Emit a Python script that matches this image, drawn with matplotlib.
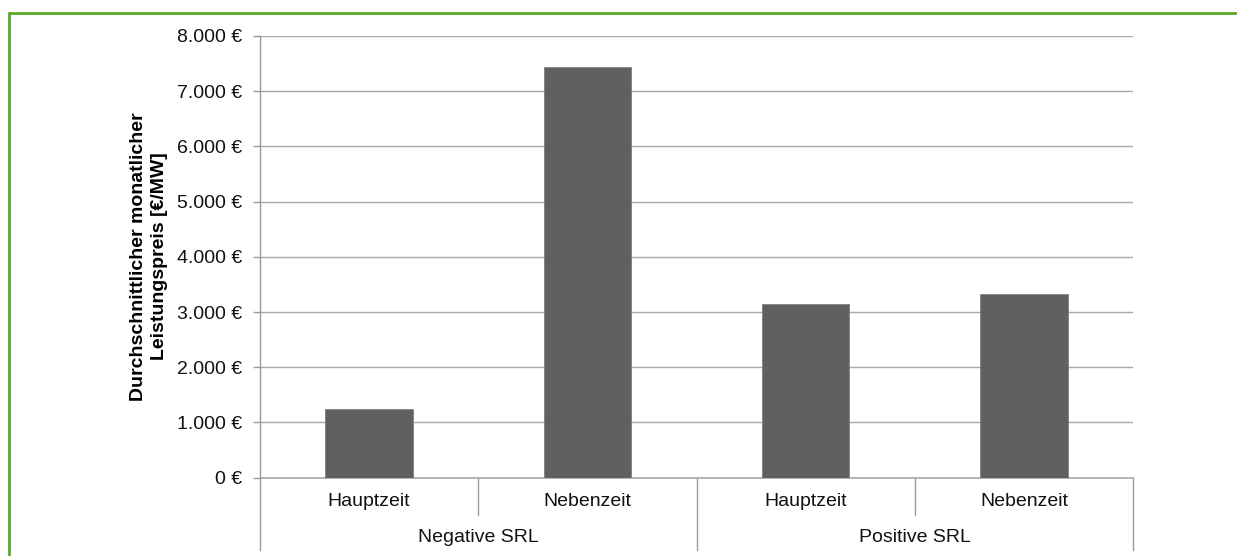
import matplotlib
matplotlib.use("Agg")
import matplotlib.pyplot as plt
from matplotlib.ticker import FuncFormatter, MultipleLocator
from matplotlib.lines import Line2D

plt.rcParams['font.family'] = ['Liberation Sans', 'DejaVu Sans']

# Durchschnittlicher monatlicher Leistungspreis je Produkt
groups = ['Negative SRL', 'Positive SRL']
zeiten = ['Hauptzeit', 'Nebenzeit']
werte = [1240, 7435, 3140, 3320]

BAR = '#606060'
GRID = '#a8a8a8'
AXIS = '#9a9a9a'
GREEN = '#5aaa2c'

W, H = 1237, 556
fig = plt.figure(figsize=(W / 100, H / 100), dpi=100)

# plot area in pixel coordinates
x0, x1 = 260, 1133.3
y_top, y_zero = 36, 477.7
ax = fig.add_axes([x0 / W, (H - y_zero) / H, (x1 - x0) / W, (y_zero - y_top) / H])

n = len(werte)
xs = [i + 0.5 for i in range(n)]
ax.bar(xs, werte, width=0.4, color=BAR, edgecolor='#808080', linewidth=0.6, zorder=3)

ax.set_xlim(0, n)
ax.set_ylim(0, 8000)
ax.yaxis.set_major_locator(MultipleLocator(1000))
ax.yaxis.set_major_formatter(FuncFormatter(
    lambda v, p: '{:,.0f} €'.format(v).replace(',', '.')))
ax.tick_params(axis='y', direction='out', length=5, width=1, color=AXIS,
               labelsize=14, pad=8, labelcolor='#111111')
ax.set_xticks([])
ax.grid(axis='y', color=GRID, linewidth=1, zorder=0)

for s in ['top', 'right']:
    ax.spines[s].set_visible(False)
ax.spines['left'].set_color(AXIS)
ax.spines['bottom'].set_color(GRID)
ax.spines['left'].set_linewidth(1)
ax.spines['bottom'].set_linewidth(1.2)

# two-level category axis below the plot
tr = ax.get_xaxis_transform()
span = y_zero - y_top
y_inner = -(515 - y_zero) / span
y_outer = -(550 - y_zero) / span
for xv in [0, 2, 4]:
    ax.add_line(Line2D([xv, xv], [0, y_outer], transform=tr, color=AXIS,
                       linewidth=1, clip_on=False))
for xv in [1, 3]:
    ax.add_line(Line2D([xv, xv], [0, y_inner], transform=tr, color=AXIS,
                       linewidth=1, clip_on=False))

y_lab1 = -(501.5 - y_zero) / span
y_lab2 = -(538 - y_zero) / span
for i, xv in enumerate(xs):
    ax.text(xv, y_lab1, zeiten[i % 2], transform=tr, ha='center', va='center',
            fontsize=14, color='#111111')
for g, name in enumerate(groups):
    ax.text(2 * g + 1, y_lab2, name, transform=tr, ha='center', va='center',
            fontsize=14, color='#111111')

fig.text(149 / W, (H - 256.5) / H,
         'Durchschnittlicher monatlicher\nLeistungspreis [€/MW]',
         rotation=90, ha='center', va='center', multialignment='center',
         fontsize=14, fontweight='bold', linespacing=1.35)

# green frame (top and left edges)
fig.add_artist(Line2D([8.5 / W, 1], [1 - 12.5 / H, 1 - 12.5 / H],
                      transform=fig.transFigure, color=GREEN, linewidth=2,
                      solid_capstyle='butt'))
fig.add_artist(Line2D([8.5 / W, 8.5 / W], [0, 1 - 12.5 / H],
                      transform=fig.transFigure, color=GREEN, linewidth=2,
                      solid_capstyle='projecting'))

fig.savefig('out.png', dpi=100)
